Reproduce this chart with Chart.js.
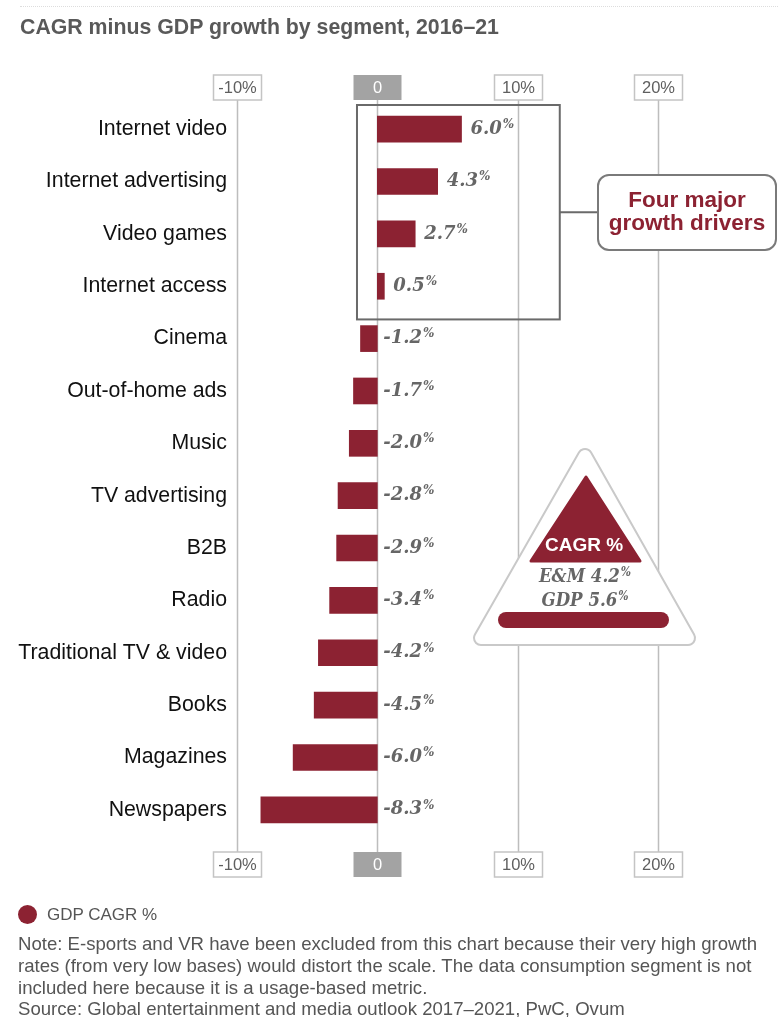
<!DOCTYPE html>
<html>
<head>
<meta charset="utf-8">
<script src="https://cdn.jsdelivr.net/npm/chart.js@4.4.0/dist/chart.umd.min.js"></script>
<style>
  body { margin: 0; background: #fff; font-family: "Liberation Sans", Arial, sans-serif; }
  #wrap { position: relative; width: 778px; height: 1017px; overflow: hidden; }
  #chart { position: absolute; left: 0; top: 0; }
  .txt { position: absolute; color: #555; white-space: nowrap; }
  #title { left: 20px; top: 15px; font-size: 21.3px; font-weight: bold; color: #595959; }
  #topline { position: absolute; left: 20px; right: 0; top: 6px; border-top: 1px dotted #ddd; }
  #legend { left: 18px; top: 905px; font-size: 17px; }
  #legend span.dot { display: inline-block; width: 19px; height: 19px; border-radius: 50%; background: #8c2232; vertical-align: -4px; margin-right: 10px; }
  #note { left: 18px; top: 933px; font-size: 18.6px; line-height: 21.8px; }
</style>
</head>
<body>
<div id="wrap">
  <canvas id="chart" width="778" height="1017"></canvas>
  <div id="topline"></div>
  <div class="txt" id="title">CAGR minus GDP growth by segment, 2016–21</div>
  <div class="txt" id="legend"><span class="dot"></span>GDP CAGR %</div>
  <div class="txt" id="note">Note: E-sports and VR have been excluded from this chart because their very high growth<br>rates (from very low bases) would distort the scale. The data consumption segment is not<br>included here because it is a usage-based metric.<br>Source: Global entertainment and media outlook 2017–2021, PwC, Ovum</div>
</div>
<script>
'use strict';

const segments = [
    'Internet video', 'Internet advertising', 'Video games', 'Internet access',
    'Cinema', 'Out-of-home ads', 'Music', 'TV advertising', 'B2B', 'Radio',
    'Traditional TV & video', 'Books', 'Magazines', 'Newspapers'
];
const cagrMinusGdp = [6.0, 4.3, 2.7, 0.5, -1.2, -1.7, -2.0, -2.8, -2.9, -3.4, -4.2, -4.5, -6.0, -8.3];
const axisTicks = [-10, 0, 10, 20];
const tickLabels = ['-10%', '0', '10%', '20%'];
const emCagr = 4.2;
const gdpCagr = 5.6;

const RED = '#8c2232';
const GREY_TEXT = '#5f5f5f';
const SERIF = '"DejaVu Serif", Georgia, serif';
const SERIF_NARROW = '"DejaVu Serif Condensed", "DejaVu Serif", Georgia, serif';

function roundRect(ctx, x, y, w, h, r) {
    ctx.beginPath();
    ctx.moveTo(x + r, y);
    ctx.arcTo(x + w, y, x + w, y + h, r);
    ctx.arcTo(x + w, y + h, x, y + h, r);
    ctx.arcTo(x, y + h, x, y, r);
    ctx.arcTo(x, y, x + w, y, r);
    ctx.closePath();
}

// value followed by a small raised % sign; returns total width
function pctText(ctx, str, x, y, size, family, measureOnly) {
    ctx.font = 'italic bold ' + size + 'px ' + family;
    ctx.textBaseline = 'middle';
    ctx.textAlign = 'left';
    const w = ctx.measureText(str).width;
    const small = 'italic bold ' + Math.round(size * 0.66) + 'px ' + family;
    if (!measureOnly) ctx.fillText(str, x, y);
    ctx.font = small;
    const pw = ctx.measureText('%').width;
    if (!measureOnly) ctx.fillText('%', x + w + 1, y - size * 0.24);
    return w + 1 + pw;
}

// gridlines and boxed tick labels above and below the bars
const axisBoxes = {
    id: 'axisBoxes',
    beforeDatasetsDraw(chart) {
        const ctx = chart.ctx;
        const xs = chart.scales.x;
        ctx.save();
        axisTicks.forEach((t, i) => {
            const px = Math.round(xs.getPixelForValue(t)) + 0.5;
            ctx.strokeStyle = '#bdbdbd';
            ctx.lineWidth = 1.5;
            ctx.beginPath();
            ctx.moveTo(px, 100);
            ctx.lineTo(px, 852);
            ctx.stroke();
            [75, 852].forEach(top => {
                const w = 48, h = 25;
                if (t === 0) {
                    ctx.fillStyle = '#a3a3a3';
                    ctx.fillRect(px - w / 2, top, w, h);
                } else {
                    ctx.fillStyle = '#fff';
                    ctx.fillRect(px - w / 2, top, w, h);
                    ctx.strokeStyle = '#c4c4c4';
                    ctx.lineWidth = 1.5;
                    ctx.strokeRect(px - w / 2, top, w, h);
                }
                ctx.fillStyle = t === 0 ? '#fff' : GREY_TEXT;
                ctx.font = '16.5px "Liberation Sans", Arial, sans-serif';
                ctx.textAlign = 'center';
                ctx.textBaseline = 'middle';
                ctx.fillText(tickLabels[i], px, top + h / 2 + 1);
            });
        });
        ctx.restore();
    }
};

// value labels, the growth drivers box and the CAGR triangle
const annotations = {
    id: 'annotations',
    afterDatasetsDraw(chart) {
        const ctx = chart.ctx;
        const xs = chart.scales.x;
        const ys = chart.scales.y;
        const zero = xs.getPixelForValue(0);
        ctx.save();

        chart.getDatasetMeta(0).data.forEach((bar, i) => {
            const v = cagrMinusGdp[i];
            const x = (v > 0 ? bar.x + 9 : zero + 6);
            ctx.fillStyle = '#666';
            pctText(ctx, v.toFixed(1), x, bar.y, 18, SERIF);
        });

        // box around the top four segments
        const band = (ys.getPixelForValue(1) - ys.getPixelForValue(0));
        const boxTop = ys.getPixelForValue(0) - band / 2 + 2;
        const boxBot = ys.getPixelForValue(3) + band / 2 + 7;
        const boxL = xs.getPixelForValue(-1.45);
        const boxR = xs.getPixelForValue(13.0);
        ctx.strokeStyle = '#6a6a6a';
        ctx.lineWidth = 2;
        ctx.strokeRect(boxL, boxTop, boxR - boxL, boxBot - boxTop);
        const midY = (boxTop + boxBot) / 2;
        ctx.beginPath();
        ctx.moveTo(boxR, midY);
        ctx.lineTo(598, midY);
        ctx.stroke();
        ctx.fillStyle = '#fff';
        roundRect(ctx, 598, 175, 178, 75, 11);
        ctx.fill();
        ctx.strokeStyle = '#7a7a7a';
        ctx.stroke();
        ctx.fillStyle = RED;
        ctx.font = 'bold 22.5px "Liberation Sans", Arial, sans-serif';
        ctx.textAlign = 'center';
        ctx.textBaseline = 'middle';
        ctx.fillText('Four major', 687, 201);
        ctx.fillText('growth drivers', 687, 224);

        // CAGR triangle
        ctx.lineJoin = 'round';
        ctx.beginPath();
        ctx.moveTo(585, 456);
        ctx.lineTo(688, 638);
        ctx.lineTo(481, 638);
        ctx.closePath();
        ctx.lineWidth = 16;
        ctx.strokeStyle = '#c9c9c9';
        ctx.stroke();
        ctx.lineWidth = 12;
        ctx.strokeStyle = '#fff';
        ctx.stroke();
        ctx.fillStyle = '#fff';
        ctx.fill();

        ctx.beginPath();
        ctx.moveTo(586, 477);
        ctx.lineTo(640, 561);
        ctx.lineTo(531, 561);
        ctx.closePath();
        ctx.lineWidth = 3;
        ctx.strokeStyle = RED;
        ctx.stroke();
        ctx.fillStyle = RED;
        ctx.fill();
        ctx.fillStyle = '#fff';
        ctx.font = 'bold 19px "Liberation Sans", Arial, sans-serif';
        ctx.textAlign = 'center';
        ctx.fillText('CAGR %', 584, 546);

        ctx.fillStyle = '#666';
        [['E&M ' + emCagr.toFixed(1), 577], ['GDP ' + gdpCagr.toFixed(1), 601]].forEach(([s, y]) => {
            const w = pctText(ctx, s, 0, y, 18.5, SERIF_NARROW, true);
            pctText(ctx, s, 585 - w / 2, y, 18.5, SERIF_NARROW);
        });

        ctx.fillStyle = RED;
        roundRect(ctx, 498, 612, 171, 16, 8);
        ctx.fill();

        ctx.restore();
    }
};

new Chart(document.querySelector('#chart'), {
    type: 'bar',
    data: {
        labels: segments,
        datasets: [{
            label: 'GDP CAGR %',
            data: cagrMinusGdp,
            backgroundColor: RED,
            borderWidth: 0,
            barThickness: 26,
        }]
    },
    options: {
        indexAxis: 'y',
        responsive: false,
        animation: false,
        layout: { padding: { top: 103, bottom: 181, right: 120, left: 0 } },
        plugins: {
            legend: { display: false },
            tooltip: { enabled: false },
        },
        scales: {
            x: {
                min: -10,
                max: 20,
                display: false,
            },
            y: {
                grid: { display: false, drawTicks: false },
                border: { display: false },
                afterFit(scale) { scale.width = 237; },
                ticks: {
                    padding: 10,
                    color: '#111',
                    font: { family: '"Liberation Sans", Arial, sans-serif', size: 21.3 },
                },
            },
        },
    },
    plugins: [axisBoxes, annotations],
});
</script>
</body>
</html>
